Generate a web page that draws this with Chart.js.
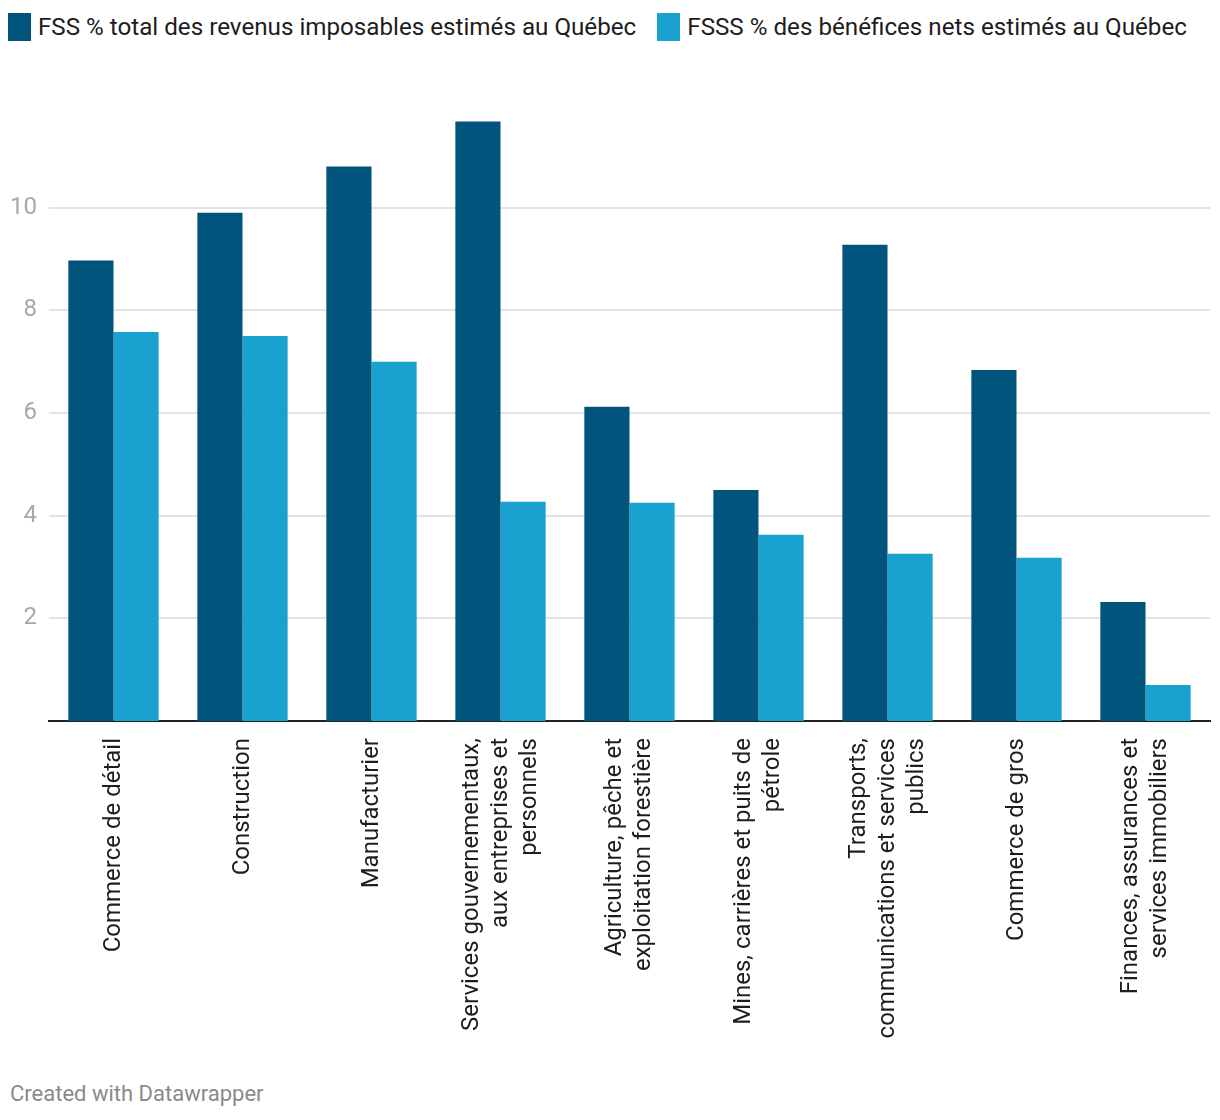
<!DOCTYPE html>
<html>
<head>
<meta charset="utf-8">
<script src="https://cdn.jsdelivr.net/npm/chart.js@4"></script>
<style>
    body { margin: 0; background: #fff; font-family: Roboto, sans-serif; }
    .wrap { position: relative; width: 1220px; height: 1120px; }
    .legend { position: absolute; top: 13px; left: 8px; display: flex; font-size: 24.2px; color: #1d1d1d; }
    .legend-item { display: flex; align-items: center; margin-right: 21px; }
    .swatch { width: 23px; height: 28px; margin-right: 7px; }
    .chart-box { position: absolute; top: 60px; left: 0; width: 1220px; height: 1005px; }
    .footer { position: absolute; left: 10px; top: 1081px; font-size: 22px; color: #8a8a8a; }
</style>
</head>
<body>
<div class="wrap">
    <div class="legend" id="legend"></div>
    <div class="chart-box"><canvas id="chart"></canvas></div>
    <div class="footer">Created with Datawrapper</div>
</div>
<script>
const categories = [
    "Commerce de détail",
    "Construction",
    "Manufacturier",
    ["Services gouvernementaux,", "aux entreprises et", "personnels"],
    ["Agriculture, pêche et", "exploitation forestière"],
    ["Mines, carrières et puits de", "pétrole"],
    ["Transports,", "communications et services", "publics"],
    "Commerce de gros",
    ["Finances, assurances et", "services immobiliers"]
];
const fssValues = [8.97, 9.90, 10.80, 11.68, 6.12, 4.50, 9.28, 6.84, 2.32];
const fsssValues = [7.58, 7.50, 7.00, 4.27, 4.25, 3.63, 3.26, 3.18, 0.70];
const yTicks = [2, 4, 6, 8, 10];
const seriesNames = [
    "FSS % total des revenus imposables estimés au Québec",
    "FSSS % des bénéfices nets estimés au Québec"
];
const seriesColors = ["#01547b", "#19a2cf"];

const legend = document.getElementById("legend");
legend.innerHTML = seriesNames.map((name, i) => `
    <div class="legend-item"><span class="swatch" style="background:${seriesColors[i]}"></span>${name}</div>
`).join("");

const CANVAS_H = 1005;
const LABEL_FONT = "24px Roboto";
const LABEL_LINE = 29;

// rotated category labels, lines centred on the tick and right-aligned at the axis
const categoryLabels = {
    id: "categoryLabels",
    afterDraw(chart) {
        const { ctx, scales: { x } } = chart;
        ctx.save();
        ctx.font = LABEL_FONT;
        ctx.fillStyle = "#1d1d1d";
        ctx.textAlign = "right";
        ctx.textBaseline = "middle";
        categories.forEach((label, i) => {
            const lines = Array.isArray(label) ? label : [label];
            const cx = x.getPixelForTick(i);
            lines.forEach((line, j) => {
                const px = cx + (j - (lines.length - 1) / 2) * LABEL_LINE;
                ctx.save();
                ctx.translate(px, x.top + 17);
                ctx.rotate(-Math.PI / 2);
                ctx.fillText(line, 0, 0);
                ctx.restore();
            });
        });
        ctx.restore();
    }
};

new Chart(document.getElementById("chart"), {
    type: "bar",
    data: {
        labels: categories,
        datasets: [
            { label: seriesNames[0], data: fssValues, backgroundColor: seriesColors[0] },
            { label: seriesNames[1], data: fsssValues, backgroundColor: seriesColors[1] }
        ]
    },
    plugins: [categoryLabels],
    options: {
        responsive: true,
        maintainAspectRatio: false,
        animation: false,
        layout: { padding: { top: 45, right: 10, left: 0, bottom: 0 } },
        plugins: { legend: { display: false }, tooltip: { enabled: false } },
        datasets: { bar: { categoryPercentage: 0.7, barPercentage: 1.0 } },
        scales: {
            x: {
                grid: { display: false, drawTicks: false },
                border: { display: true, color: "#222", width: 2 },
                ticks: { display: false },
                afterFit: (scale) => { scale.height = CANVAS_H - 661; }
            },
            y: {
                min: 0,
                max: 12,
                afterBuildTicks: (scale) => { scale.ticks = yTicks.map((v) => ({ value: v })); },
                afterFit: (scale) => { scale.width = 49; },
                grid: { color: "#e3e3e3", lineWidth: 2, drawTicks: false },
                border: { display: false },
                ticks: {
                    padding: 12,
                    color: "#a8a8a8",
                    font: { family: "Roboto", size: 24 }
                }
            }
        }
    }
});
</script>
</body>
</html>
